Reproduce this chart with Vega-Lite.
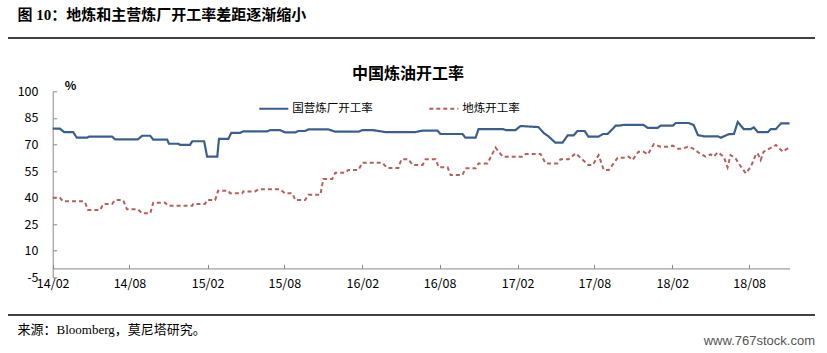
{
  "$schema": "https://vega.github.io/schema/vega-lite/v6.json",
  "autosize": {"type": "none"},
  "padding": {"left": 8, "top": 91.3, "right": 12, "bottom": 75.7},
  "width": 807,
  "height": 186,
  "background": "white",
  "title": {"text": "www.767stock.com", "orient": "bottom", "anchor": "end", "frame": "group", "offset": -1, "font": "Liberation Sans", "fontSize": 13, "fontWeight": "normal", "color": "#555555"},
  "datasets": {
    "series": [
      {"s":"国营炼厂开工率","d":"2014-02-01","v":78.9},{"s":"国营炼厂开工率","d":"2014-02-18","v":78.9},{"s":"国营炼厂开工率","d":"2014-02-28","v":77.0},{"s":"国营炼厂开工率","d":"2014-03-21","v":77.0},{"s":"国营炼厂开工率","d":"2014-03-30","v":73.8},{"s":"国营炼厂开工率","d":"2014-04-23","v":73.8},{"s":"国营炼厂开工率","d":"2014-04-28","v":74.4},{"s":"国营炼厂开工率","d":"2014-06-21","v":74.4},{"s":"国营炼厂开工率","d":"2014-06-28","v":72.9},{"s":"国营炼厂开工率","d":"2014-08-21","v":72.9},{"s":"国营炼厂开工率","d":"2014-08-31","v":74.9},{"s":"国营炼厂开工率","d":"2014-09-19","v":74.9},{"s":"国营炼厂开工率","d":"2014-09-26","v":72.7},{"s":"国营炼厂开工率","d":"2014-10-29","v":72.7},{"s":"国营炼厂开工率","d":"2014-11-02","v":70.4},{"s":"国营炼厂开工率","d":"2014-11-24","v":70.4},{"s":"国营炼厂开工率","d":"2014-11-28","v":69.8},{"s":"国营炼厂开工率","d":"2014-12-22","v":69.8},{"s":"国营炼厂开工率","d":"2014-12-27","v":71.8},{"s":"国营炼厂开工率","d":"2015-01-24","v":71.8},{"s":"国营炼厂开工率","d":"2015-01-31","v":63.1},{"s":"国营炼厂开工率","d":"2015-02-24","v":63.1},{"s":"国营炼厂开工率","d":"2015-02-28","v":73.1},{"s":"国营炼厂开工率","d":"2015-03-22","v":73.1},{"s":"国营炼厂开工率","d":"2015-03-29","v":76.5},{"s":"国营炼厂开工率","d":"2015-04-19","v":76.5},{"s":"国营炼厂开工率","d":"2015-04-26","v":77.4},{"s":"国营炼厂开工率","d":"2015-06-22","v":77.4},{"s":"国营炼厂开工率","d":"2015-06-29","v":78.1},{"s":"国营炼厂开工率","d":"2015-07-22","v":78.1},{"s":"国营炼厂开工率","d":"2015-08-03","v":76.8},{"s":"国营炼厂开工率","d":"2015-08-27","v":76.8},{"s":"国营炼厂开工率","d":"2015-09-03","v":77.6},{"s":"国营炼厂开工率","d":"2015-09-19","v":77.6},{"s":"国营炼厂开工率","d":"2015-09-27","v":78.5},{"s":"国营炼厂开工率","d":"2015-11-13","v":78.5},{"s":"国营炼厂开工率","d":"2015-11-29","v":77.2},{"s":"国营炼厂开工率","d":"2016-01-23","v":77.2},{"s":"国营炼厂开工率","d":"2016-02-01","v":78.1},{"s":"国营炼厂开工率","d":"2016-02-25","v":78.1},{"s":"国营炼厂开工率","d":"2016-03-26","v":77.0},{"s":"国营炼厂开工率","d":"2016-06-05","v":77.0},{"s":"国营炼厂开工率","d":"2016-06-22","v":77.8},{"s":"国营炼厂开工率","d":"2016-07-27","v":77.8},{"s":"国营炼厂开工率","d":"2016-08-03","v":75.9},{"s":"国营炼厂开工率","d":"2016-09-24","v":75.9},{"s":"国营炼厂开工率","d":"2016-10-01","v":73.8},{"s":"国营炼厂开工率","d":"2016-10-25","v":73.8},{"s":"国营炼厂开工率","d":"2016-11-01","v":78.7},{"s":"国营炼厂开工率","d":"2016-12-28","v":78.7},{"s":"国营炼厂开工率","d":"2017-01-04","v":78.1},{"s":"国营炼厂开工率","d":"2017-01-27","v":78.1},{"s":"国营炼厂开工率","d":"2017-02-08","v":80.4},{"s":"国营炼厂开工率","d":"2017-03-22","v":79.8},{"s":"国营炼厂开工率","d":"2017-04-03","v":76.6},{"s":"国营炼厂开工率","d":"2017-04-15","v":74.5},{"s":"国营炼厂开工率","d":"2017-05-01","v":71.0},{"s":"国营炼厂开工率","d":"2017-05-18","v":71.0},{"s":"国营炼厂开工率","d":"2017-05-30","v":75.1},{"s":"国营炼厂开工率","d":"2017-06-13","v":75.1},{"s":"国营炼厂开工率","d":"2017-06-22","v":77.6},{"s":"国营炼厂开工率","d":"2017-07-09","v":77.6},{"s":"国营炼厂开工率","d":"2017-07-18","v":74.4},{"s":"国营炼厂开工率","d":"2017-08-11","v":74.4},{"s":"国营炼厂开工率","d":"2017-08-21","v":75.9},{"s":"国营炼厂开工率","d":"2017-09-01","v":75.9},{"s":"国营炼厂开工率","d":"2017-09-08","v":77.5},{"s":"国营炼厂开工率","d":"2017-09-20","v":80.6},{"s":"国营炼厂开工率","d":"2017-09-27","v":80.6},{"s":"国营炼厂开工率","d":"2017-10-09","v":81.0},{"s":"国营炼厂开工率","d":"2017-11-25","v":81.0},{"s":"国营炼厂开工率","d":"2017-12-05","v":79.3},{"s":"国营炼厂开工率","d":"2017-12-28","v":79.3},{"s":"国营炼厂开工率","d":"2018-01-04","v":80.6},{"s":"国营炼厂开工率","d":"2018-02-02","v":80.6},{"s":"国营炼厂开工率","d":"2018-02-09","v":82.1},{"s":"国营炼厂开工率","d":"2018-03-11","v":82.1},{"s":"国营炼厂开工率","d":"2018-03-23","v":81.0},{"s":"国营炼厂开工率","d":"2018-04-02","v":75.3},{"s":"国营炼厂开工率","d":"2018-04-16","v":74.6},{"s":"国营炼厂开工率","d":"2018-05-19","v":74.6},{"s":"国营炼厂开工率","d":"2018-05-26","v":73.8},{"s":"国营炼厂开工率","d":"2018-06-14","v":75.8},{"s":"国营炼厂开工率","d":"2018-06-26","v":75.9},{"s":"国营炼厂开工率","d":"2018-07-05","v":82.7},{"s":"国营炼厂开工率","d":"2018-07-19","v":78.7},{"s":"国营炼厂开工率","d":"2018-08-05","v":78.7},{"s":"国营炼厂开工率","d":"2018-08-12","v":79.6},{"s":"国营炼厂开工率","d":"2018-08-21","v":77.0},{"s":"国营炼厂开工率","d":"2018-09-14","v":77.0},{"s":"国营炼厂开工率","d":"2018-09-21","v":78.7},{"s":"国营炼厂开工率","d":"2018-10-03","v":78.7},{"s":"国营炼厂开工率","d":"2018-10-15","v":81.9},{"s":"国营炼厂开工率","d":"2018-11-04","v":81.9},
      {"s":"地炼开工率","d":"2014-02-01","v":39.9},{"s":"地炼开工率","d":"2014-02-18","v":39.9},{"s":"地炼开工率","d":"2014-02-25","v":37.9},{"s":"地炼开工率","d":"2014-04-14","v":37.9},{"s":"地炼开工率","d":"2014-04-18","v":37.5},{"s":"地炼开工率","d":"2014-04-25","v":33.0},{"s":"地炼开工率","d":"2014-05-24","v":33.0},{"s":"地炼开工率","d":"2014-05-31","v":36.4},{"s":"地炼开工率","d":"2014-06-21","v":36.4},{"s":"地炼开工率","d":"2014-06-28","v":38.6},{"s":"地炼开工率","d":"2014-07-17","v":38.6},{"s":"地炼开工率","d":"2014-07-26","v":33.4},{"s":"地炼开工率","d":"2014-08-21","v":33.4},{"s":"地炼开工率","d":"2014-08-31","v":31.1},{"s":"地炼开工率","d":"2014-09-19","v":31.1},{"s":"地炼开工率","d":"2014-09-26","v":37.1},{"s":"地炼开工率","d":"2014-10-24","v":37.1},{"s":"地炼开工率","d":"2014-10-31","v":35.4},{"s":"地炼开工率","d":"2014-12-27","v":35.4},{"s":"地炼开工率","d":"2014-12-29","v":36.4},{"s":"地炼开工率","d":"2015-01-26","v":36.4},{"s":"地炼开工率","d":"2015-01-31","v":38.6},{"s":"地炼开工率","d":"2015-02-19","v":38.6},{"s":"地炼开工率","d":"2015-02-26","v":43.9},{"s":"地炼开工率","d":"2015-03-22","v":43.9},{"s":"地炼开工率","d":"2015-03-26","v":42.4},{"s":"地炼开工率","d":"2015-04-24","v":42.4},{"s":"地炼开工率","d":"2015-04-26","v":43.5},{"s":"地炼开工率","d":"2015-05-24","v":43.5},{"s":"地炼开工率","d":"2015-06-01","v":44.7},{"s":"地炼开工率","d":"2015-07-22","v":44.7},{"s":"地炼开工率","d":"2015-08-03","v":42.4},{"s":"地炼开工率","d":"2015-08-20","v":42.4},{"s":"地炼开工率","d":"2015-08-27","v":38.6},{"s":"地炼开工率","d":"2015-09-19","v":38.6},{"s":"地炼开工率","d":"2015-09-27","v":41.6},{"s":"地炼开工率","d":"2015-10-25","v":41.6},{"s":"地炼开工率","d":"2015-11-01","v":50.5},{"s":"地炼开工率","d":"2015-11-22","v":50.5},{"s":"地炼开工率","d":"2015-11-29","v":54.0},{"s":"地炼开工率","d":"2015-12-23","v":54.0},{"s":"地炼开工率","d":"2015-12-30","v":55.6},{"s":"地炼开工率","d":"2016-01-23","v":55.6},{"s":"地炼开工率","d":"2016-02-01","v":59.7},{"s":"地炼开工率","d":"2016-03-19","v":59.7},{"s":"地炼开工率","d":"2016-03-31","v":56.7},{"s":"地炼开工率","d":"2016-04-26","v":56.7},{"s":"地炼开工率","d":"2016-05-03","v":61.6},{"s":"地炼开工率","d":"2016-05-20","v":61.6},{"s":"地炼开工率","d":"2016-05-29","v":58.4},{"s":"地炼开工率","d":"2016-06-22","v":58.4},{"s":"地炼开工率","d":"2016-06-29","v":61.6},{"s":"地炼开工率","d":"2016-07-23","v":61.6},{"s":"地炼开工率","d":"2016-07-30","v":57.1},{"s":"地炼开工率","d":"2016-08-20","v":57.1},{"s":"地炼开工率","d":"2016-08-27","v":52.7},{"s":"地炼开工率","d":"2016-09-24","v":52.7},{"s":"地炼开工率","d":"2016-10-01","v":56.5},{"s":"地炼开工率","d":"2016-10-25","v":56.5},{"s":"地炼开工率","d":"2016-11-01","v":59.3},{"s":"地炼开工率","d":"2016-11-22","v":59.3},{"s":"地炼开工率","d":"2016-12-11","v":68.2},{"s":"地炼开工率","d":"2016-12-28","v":63.1},{"s":"地炼开工率","d":"2017-02-13","v":63.1},{"s":"地炼开工率","d":"2017-02-20","v":64.6},{"s":"地炼开工率","d":"2017-03-27","v":64.6},{"s":"地炼开工率","d":"2017-04-08","v":59.3},{"s":"地炼开工率","d":"2017-05-06","v":59.3},{"s":"地炼开工率","d":"2017-05-13","v":61.6},{"s":"地炼开工率","d":"2017-06-01","v":61.6},{"s":"地炼开工率","d":"2017-06-18","v":65.0},{"s":"地炼开工率","d":"2017-07-18","v":58.4},{"s":"地炼开工率","d":"2017-07-28","v":58.4},{"s":"地炼开工率","d":"2017-08-11","v":64.0},{"s":"地炼开工率","d":"2017-08-23","v":55.6},{"s":"地炼开工率","d":"2017-09-04","v":55.6},{"s":"地炼开工率","d":"2017-09-25","v":62.5},{"s":"地炼开工率","d":"2017-10-14","v":62.5},{"s":"地炼开工率","d":"2017-10-21","v":63.1},{"s":"地炼开工率","d":"2017-10-30","v":61.2},{"s":"地炼开工率","d":"2017-11-13","v":65.9},{"s":"地炼开工率","d":"2017-11-25","v":65.9},{"s":"地炼开工率","d":"2017-12-05","v":64.4},{"s":"地炼开工率","d":"2017-12-19","v":70.1},{"s":"地炼开工率","d":"2018-01-04","v":68.7},{"s":"地炼开工率","d":"2018-01-21","v":68.7},{"s":"地炼开工率","d":"2018-02-02","v":69.3},{"s":"地炼开工率","d":"2018-02-14","v":67.6},{"s":"地炼开工率","d":"2018-02-25","v":67.6},{"s":"地炼开工率","d":"2018-03-09","v":68.7},{"s":"地炼开工率","d":"2018-03-21","v":67.8},{"s":"地炼开工率","d":"2018-04-04","v":65.3},{"s":"地炼开工率","d":"2018-04-20","v":63.1},{"s":"地炼开工率","d":"2018-05-02","v":64.4},{"s":"地炼开工率","d":"2018-05-09","v":63.1},{"s":"地炼开工率","d":"2018-05-19","v":65.5},{"s":"地炼开工率","d":"2018-06-02","v":63.1},{"s":"地炼开工率","d":"2018-06-11","v":57.1},{"s":"地炼开工率","d":"2018-06-18","v":64.0},{"s":"地炼开工率","d":"2018-06-30","v":62.1},{"s":"地炼开工率","d":"2018-07-07","v":59.3},{"s":"地炼开工率","d":"2018-07-24","v":53.7},{"s":"地炼开工率","d":"2018-08-05","v":57.5},{"s":"地炼开工率","d":"2018-08-16","v":64.0},{"s":"地炼开工率","d":"2018-08-21","v":65.0},{"s":"地炼开工率","d":"2018-08-28","v":61.2},{"s":"地炼开工率","d":"2018-09-04","v":65.9},{"s":"地炼开工率","d":"2018-09-26","v":68.7},{"s":"地炼开工率","d":"2018-10-03","v":69.7},{"s":"地炼开工率","d":"2018-10-19","v":65.9},{"s":"地炼开工率","d":"2018-11-04","v":68.4}
    ],
    "rules": [{"v": 130.1}, {"v": -26.3}]
  },
  "resolve": {"axis": {"x": "independent", "y": "independent"}},
  "layer": [
    {
      "data": {"name": "series"},
      "transform": [{"filter": "datum.s === '国营炼厂开工率'"}],
      "mark": {"type": "line", "strokeWidth": 2.2},
      "encoding": {
        "x": {
          "field": "d", "type": "temporal",
          "scale": {"type": "utc", "domain": [{"year": 2014, "month": 2, "date": 1, "utc": true}, {"year": 2018, "month": 11, "date": 4, "utc": true}], "range": [44.7, 781.5]},
          "axis": {
            "orient": "bottom", "offset": -8.9,
            "values": [{"year": 2014, "month": 2, "date": 1, "utc": true}, {"year": 2014, "month": 8, "date": 1, "utc": true}, {"year": 2015, "month": 2, "date": 1, "utc": true}, {"year": 2015, "month": 8, "date": 1, "utc": true}, {"year": 2016, "month": 2, "date": 1, "utc": true}, {"year": 2016, "month": 8, "date": 1, "utc": true}, {"year": 2017, "month": 2, "date": 1, "utc": true}, {"year": 2017, "month": 8, "date": 1, "utc": true}, {"year": 2018, "month": 2, "date": 1, "utc": true}, {"year": 2018, "month": 8, "date": 1, "utc": true}],
            "format": "%y/%m", "labelFlush": false, "labelOverlap": false, "grid": false,
            "domainColor": "#888888", "tickColor": "#888888", "tickSize": -4, "labelPadding": 13.5,
            "labelFont": "Noto Sans CJK SC", "labelFontSize": 12.5, "labelColor": "#000000",
            "title": "来源：Bloomberg，莫尼塔研究。", "titleX": 9, "titleY": 60.6, "titleAlign": "left", "titleBaseline": "middle",
            "titleFont": "Liberation Serif, Noto Sans CJK SC", "titleFontSize": 13, "titleFontWeight": "normal", "titleColor": "#000000"
          }
        },
        "y": {
          "field": "v", "type": "quantitative",
          "scale": {"domain": [-5, 100], "nice": false, "zero": false},
          "axis": {
            "orient": "left", "offset": -44.7, "values": [-5, 10, 25, 40, 55, 70, 85, 100], "grid": false,
            "labelExpr": "datum.value + ''",
            "domainColor": "#888888", "tickColor": "#888888", "tickSize": -4, "labelPadding": 18.7,
            "labelFont": "Noto Sans CJK SC", "labelFontSize": 12.5, "labelColor": "#000000",
            "title": "%", "titleAngle": 0, "titleX": 17.3, "titleY": -5.6, "titleAlign": "center", "titleBaseline": "middle",
            "titleFont": "Noto Sans CJK SC", "titleFontSize": 12, "titleFontWeight": "bold", "titleColor": "#000000"
          }
        },
        "color": {"field": "s", "type": "nominal", "scale": {"domain": ["国营炼厂开工率", "地炼开工率"], "range": ["#3a5f8e", "#b65f5c"]}, "legend": {"title": null}},
        "strokeDash": {"field": "s", "type": "nominal", "scale": {"domain": ["国营炼厂开工率", "地炼开工率"], "range": [[1, 0], [4, 3]]}, "legend": {"title": null}}
      }
    },
    {
      "data": {"name": "series"},
      "transform": [{"filter": "datum.s === '地炼开工率'"}],
      "mark": {"type": "line", "strokeWidth": 2},
      "encoding": {
        "x": {
          "field": "d", "type": "temporal",
          "scale": {"type": "utc", "domain": [{"year": 2014, "month": 2, "date": 1, "utc": true}, {"year": 2018, "month": 11, "date": 4, "utc": true}], "range": [44.7, 781.5]},
          "axis": {
            "orient": "top", "domain": false, "ticks": false, "labels": false, "grid": false,
            "title": "图 10：地炼和主营炼厂开工率差距逐渐缩小", "titleX": 9, "titleY": -77.3, "titleAlign": "left", "titleBaseline": "middle",
            "titleFont": "Liberation Serif, Noto Sans CJK SC", "titleFontSize": 15, "titleFontWeight": "bold", "titleColor": "#000000"
          }
        },
        "y": {
          "field": "v", "type": "quantitative",
          "scale": {"domain": [-5, 100], "nice": false, "zero": false},
          "axis": {
            "orient": "right", "domain": false, "ticks": false, "labels": false, "grid": false,
            "title": "中国炼油开工率", "titleAngle": 0, "titleX": -407.5, "titleY": -18.3, "titleAlign": "center", "titleBaseline": "middle",
            "titleFont": "Noto Sans CJK SC", "titleFontSize": 16, "titleFontWeight": "bold", "titleColor": "#000000"
          }
        },
        "color": {"field": "s", "type": "nominal", "scale": {"domain": ["国营炼厂开工率", "地炼开工率"], "range": ["#3a5f8e", "#b65f5c"]}, "legend": {"title": null}},
        "strokeDash": {"field": "s", "type": "nominal", "scale": {"domain": ["国营炼厂开工率", "地炼开工率"], "range": [[1, 0], [4, 3]]}, "legend": {"title": null}}
      }
    },
    {
      "data": {"name": "rules"},
      "mark": {"type": "rule", "color": "#000000", "strokeWidth": 1.5},
      "encoding": {
        "y": {"field": "v", "type": "quantitative", "axis": null}
      }
    }
  ],
  "config": {
    "view": {"stroke": null},
    "legend": {
      "orient": "none", "legendX": 250.3, "legendY": 2, "direction": "horizontal",
      "symbolType": "stroke", "symbolSize": 841, "symbolStrokeWidth": 2,
      "labelFont": "Noto Sans CJK SC", "labelFontSize": 11.5, "labelColor": "#000000",
      "labelOffset": 3, "columnPadding": 52, "padding": 0, "rowPadding": 0
    }
  }
}
